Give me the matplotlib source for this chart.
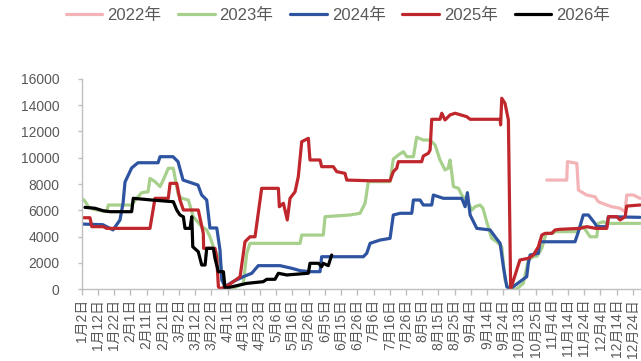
import matplotlib
matplotlib.use("Agg")
import matplotlib.pyplot as plt

plt.rcParams['font.family'] = ['Liberation Sans', 'Noto Sans CJK SC', 'DejaVu Sans']

# x-axis: category slots (trading-day index); labels every 10 slots
tick_labels = ["1月2日", "1月12日", "1月22日", "2月1日", "2月11日", "2月21日", "3月2日",
               "3月12日", "3月22日", "4月1日", "4月13日", "4月23日", "5月6日", "5月16日",
               "5月26日", "6月5日", "6月15日", "6月26日", "7月6日", "7月16日", "7月26日",
               "8月5日", "8月15日", "8月25日", "9月4日", "9月14日", "9月24日", "10月13日",
               "10月25日", "11月4日", "11月14日", "11月24日", "12月4日", "12月14日", "12月24日"]
y_ticks = [0, 2000, 4000, 6000, 8000, 10000, 12000, 14000, 16000]

# series: (slot index, value)
x2022 = [286.9, 299.2, 299.6, 305.4, 306.4, 311.5, 316.6, 318.7, 323.9, 327, 332.1, 335.2, 336.2, 340.3, 344.4]
y2022 = [8300, 8300, 9700, 9580, 7540, 7160, 7030, 6650, 6400, 6270, 6150, 5890, 7160, 7160, 6910]

x2023 = [0, 2, 4.1, 7.2, 15.4, 16.4, 30.8, 33.9, 37, 40.9, 42.1, 45.2, 48.3, 50.3, 53.4, 56.5,
         58.6, 59.6, 61.7, 65.8, 68.8, 74, 77.1, 79.1, 81.2, 83.3, 85.4, 86.4, 88.4, 93.5, 99.7,
         101.8, 103.8, 134.7, 135.7, 149, 150.1, 165.5, 171.7, 172.7, 174.8, 176.8, 190.2, 192.2,
         195.3, 198.4, 200.5, 204.6, 206.6, 210.7, 214.9, 218, 221, 224.1, 226, 227.2, 228.3,
         229.3, 232.4, 234.4, 237.5, 240.6, 242.6, 245.7, 247.5, 249.8, 252.9, 256, 259.1, 261.1,
         263.2, 268.3, 272.4, 275.5, 278.6, 280.9, 283.8, 285.8, 286.8, 290.8, 292, 305.4, 307.4,
         309.4, 313.6, 317.7, 318.7, 321.8, 323.9, 344.4]
y2023 = [6910, 6700, 6270, 6070, 5890, 6400, 6400, 6910, 7340, 7400, 8430, 8180, 7800, 8300, 9200, 9200,
         7800, 7160, 6910, 6780, 5510, 4750, 4500, 3980, 3220, 2720, 2080, 1200, 180, 50, 430,
         2720, 3480, 3480, 4110, 4110, 5510, 5640, 5770, 6020, 6530, 8180, 8180, 9900,
         10210, 10460, 10080, 10080, 11560, 11350, 11350, 10970, 9830, 9070, 9200, 9830, 8810,
         7800, 7670, 7160, 6780, 6020, 6270, 6400, 6150, 5130, 3860, 3600, 3220, 690,
         50, 0, 430, 2210, 2460, 2500, 3100, 3980, 4240, 4240, 4370, 4370, 4620,
         4750, 3980, 3980, 5000, 5130, 5000, 5000]

x2024 = [0, 13, 19.3, 23.6, 25.5, 26.7, 30.8, 34.7, 47.1, 48.3, 56.3, 59.4, 62.5, 71.7, 74, 77.1,
         79.1, 83.3, 85.3, 86.4, 88.4, 93.3, 99.7, 104.9, 108.9, 122.3, 129.5, 134.7, 140.8, 147,
         148, 173.7, 175.8, 177.9, 184, 190.2, 192.2, 196.4, 203.6, 204.6, 208.7, 210.7, 215.9,
         216.9, 223.1, 234.4, 236.5, 237.9, 239.6, 243.7, 251.9, 255, 258.1, 260.1, 262.2, 264.2,
         274.5, 275.5, 276.6, 281.7, 282.7, 304.3, 306.4, 309.4, 312.5, 316.6, 317.7, 323.9, 324.9, 344.4]
y2024 = [4950, 4900, 4500, 5260, 6550, 8150, 9220, 9620, 9620, 10080, 10080, 9700, 8300, 7920, 7160, 6780,
         4650, 4650, 2970, 690, 180, 560, 940, 1200, 1780, 1780, 1580, 1400, 1320, 1320,
         2460, 2460, 2720, 3480, 3730, 3860, 5640, 5770, 5770, 6780, 6780, 6400, 6400,
         7160, 6910, 6910, 6270, 7340, 5640, 4620, 4500, 3980, 3480, 1700, 180, 0,
         940, 1960, 2590, 2720, 3600, 3600, 4370, 5640, 5640, 5000, 4750, 4750, 5510, 5460]

x2025 = [0, 5.1, 6.2, 13.3, 15.4, 42.1, 45.2, 53.4, 54.5, 58.6, 60.6, 62.7, 71.9, 75, 75.2, 82.2,
         83.3, 84.3, 85.4, 91.5, 97.7, 100.7, 103.8, 106.9, 111, 121.3, 121.9, 124.4, 126.8, 128.5,
         131.6, 133.6, 135.7, 139.8, 140.8, 147, 148, 155.2, 157.3, 162.4, 163.5, 176.8, 190.2,
         192.2, 194.3, 195.3, 209.7, 210.7, 213.8, 214.9, 215.9, 221, 222.1, 224.1, 227.2, 230.3,
         237.5, 239.6, 258.1, 258.4, 259.1, 261.1, 263.2, 264.6, 270.3, 275.5, 278.6, 281.7, 283.8,
         285.8, 289.9, 292, 295.1, 307.4, 311.5, 317, 323.9, 324.9, 330.1, 332.1, 335.2, 336.2, 344.4]
y2025 = [5430, 5430, 4750, 4750, 4620, 4620, 6910, 6910, 8050, 8050, 6780, 6020, 6020, 4240, 3100, 3100,
         2340, 180, 0, 380, 940, 3600, 3980, 3980, 7670, 7670, 6270, 6530, 5260, 6910,
         7410, 8560, 11220, 11480, 9830, 9830, 9320, 9320, 8940, 8810, 8300, 8250, 8250,
         8940, 9200, 9700, 9700, 10130, 10340, 10590, 12930, 12930, 13390, 12880, 13260, 13390,
         13130, 12930, 12930, 12500, 14530, 14150, 12880, 0, 2210, 2340, 2590, 3220, 4110,
         4240, 4240, 4500, 4550, 4620, 4750, 4620, 4620, 5510, 5510, 5260, 5510, 6320, 6400]

x2026 = [2, 8.2, 13.3, 17.5, 30.8, 31.8, 43.2, 56.5, 58.6, 60.6, 62.7, 63.7, 66.8, 67.9, 68.5, 71.9,
         74, 76.1, 77.1, 81.2, 82.2, 84.3, 87.4, 88.4, 101.8, 112, 114.1, 119.2, 121.3, 126.5,
         139.8, 140.8, 146, 148, 149, 152.1, 154.2]
y2026 = [6220, 6150, 5960, 5890, 5890, 6910, 6780, 6650, 6020, 5640, 5500, 4620, 4620, 5510, 3220, 2840,
         1830, 1830, 3100, 3100, 2340, 1320, 1320, 50, 430, 560, 740, 740, 1200, 1070,
         1200, 1960, 1960, 1700, 1960, 1780, 2590]

series = [
    ("2022年", x2022, y2022, "#F4B3B6"),
    ("2023年", x2023, y2023, "#A8D08D"),
    ("2024年", x2024, y2024, "#2E54A1"),
    ("2025年", x2025, y2025, "#C0272D"),
    ("2026年", x2026, y2026, "#000000"),
]

fig = plt.figure(figsize=(6.41, 3.61), dpi=100)

ax = fig.add_axes([0.1275, 0.1994, 0.8725, 0.5818])

for name, xs, ys, col in series:
    ax.plot(xs, ys, color=col, lw=2.3, label=name, solid_joinstyle="round", solid_capstyle="round")

ax.set_xlim(0, 345)
ax.set_ylim(0, 16000)
ax.set_yticks(y_ticks)
ax.set_yticklabels([str(v) for v in y_ticks])
ax.set_xticks(range(0, 10 * len(tick_labels), 10))
ax.set_xticklabels(tick_labels, rotation=90, va="top", ha="center")

for s in ["top", "right"]:
    ax.spines[s].set_visible(False)
for s in ["left", "bottom"]:
    ax.spines[s].set_color("#BFBFBF")
    ax.spines[s].set_linewidth(1.0)

ax.tick_params(axis="x", colors="#BFBFBF", labelcolor="#595959", labelsize=10,
               length=4, width=1, direction="out", pad=3)
ax.tick_params(axis="y", colors="#BFBFBF", labelcolor="#595959", labelsize=10,
               length=3, width=1, direction="out", pad=13)

leg = fig.legend(loc="center", bbox_to_anchor=(0.527, 0.958), ncol=5, frameon=False,
                 fontsize=12, handlelength=2.2, handletextpad=0.3, columnspacing=1.0,
                 labelcolor="#595959")

fig.savefig("out.png", dpi=100)
